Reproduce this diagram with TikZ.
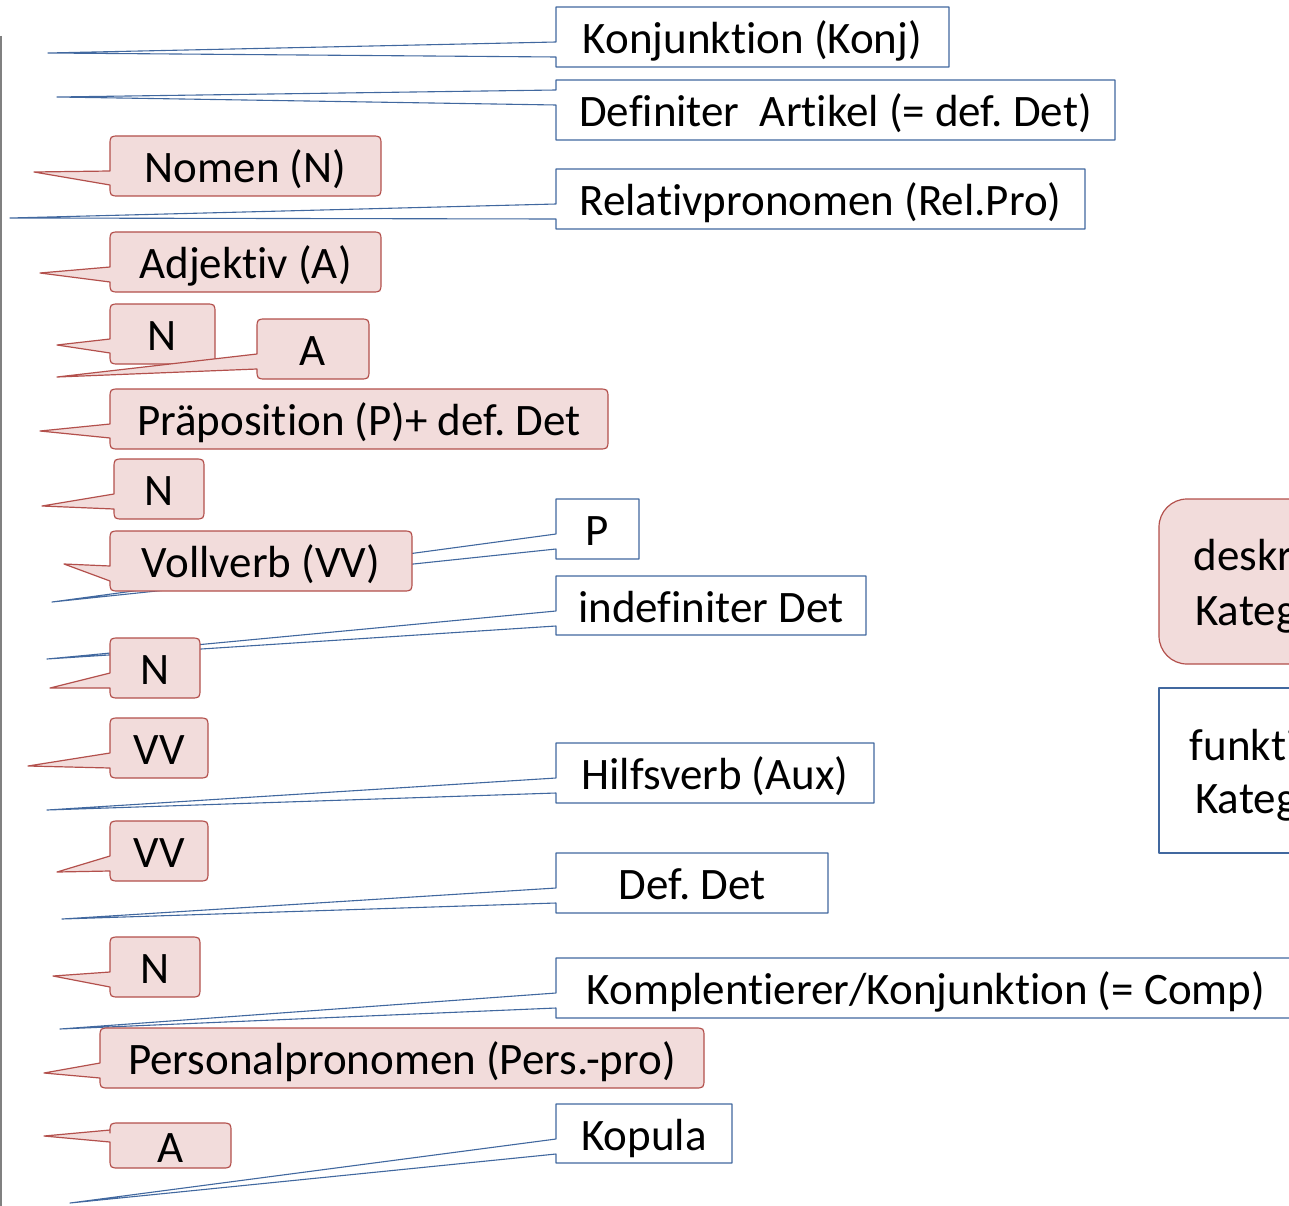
\documentclass[tikz,border=0pt]{standalone}
\usepackage{fontspec}
\setmainfont{Carlito}[Ligatures={NoCommon}]
\frenchspacing
\definecolor{pinkfill}{HTML}{F2DCDB}
\definecolor{redline}{HTML}{B3504C}
\definecolor{blueline}{HTML}{41689F}
\definecolor{pagegray}{HTML}{808080}
% red rounded callout: #1 name, #2 x1, #3 top, #4 x2, #5 bottom, #6 wedge top, #7 wedge bottom, #8 tip, #9 text
\newcommand\rcall[9]{%
  \draw[redbox] (#2,#6) -- (#8) -- (#2,#7) -- (#2,#5-10) .. controls (#2,#5) .. (#2+10,#5)
    -- (#4-10,#5) .. controls (#4,#5) .. (#4,#5-10) -- (#4,#3+10) .. controls (#4,#3) .. (#4-10,#3)
    -- (#2+10,#3) .. controls (#2,#3) .. (#2,#3+10) -- cycle;
  \node[lbl] (#1) at ({(#2+#4)/2},{(#3+#5)/2+16.5}) {#9};
}
% blue rectangular callout
\newcommand\bcall[9]{%
  \draw[bluebox] (#2,#6) -- (#8) -- (#2,#7) -- (#2,#5) -- (#4,#5) -- (#4,#3) -- (#2,#3) -- cycle;
  \node[lbl] (#1) at ({(#2+#4)/2},{(#3+#5)/2+16.5}) {#9};
}
\begin{document}
\begin{tikzpicture}[x=1pt,y=-1pt,
  redbox/.style={draw=redline,fill=pinkfill,line width=1.2pt,line join=round},
  bluebox/.style={draw=blueline,fill=white,line width=1.1pt,line join=round},
  lbl/.style={anchor=base,inner sep=0pt,font=\fontsize{45}{54}\selectfont,text=black}]
\useasboundingbox (0,0) rectangle (1289,1206);
\clip (0,0) rectangle (1289,1206);
% page edge
\coordinate (edgetop) at (1,36);
\coordinate (edgebot) at (1,1206);
\draw[pagegray,line width=1.5pt] (edgetop) -- (edgebot);
% blue (functional) callouts
\bcall{konj}{556}{7}{949}{67}{42}{57}{48,53}{Konjunktion (Konj)}
\bcall{defart}{556}{80}{1115}{140}{90}{105}{57,97}{Definiter\ \ Artikel (= def. Det)}
\bcall{relpro}{556}{169}{1085}{229}{204}{219}{10,218}{Relativpronomen (Rel.Pro)}
\bcall{prep}{556}{499}{639}{559}{534}{549}{52,602}{P}
\bcall{indef}{556}{576}{866}{635}{611}{626}{47,659}{indefiniter Det}
\bcall{aux}{556}{743}{874}{803}{778}{793}{47,810}{Hilfsverb (Aux)}
\bcall{defdet}{556}{853}{828}{913}{888}{903}{62,919}{Def. Det}
\bcall{comp}{556}{958}{1296}{1018}{993}{1008}{60,1029}{Komplentierer/Konjunktion (= Comp)}
\bcall{kop}{556}{1104}{732}{1163}{1139}{1154}{70,1203}{Kopula}
% red (descriptive) callouts
\rcall{nomen}{110}{136}{381}{196}{171}{185}{34,172}{Nomen (N)}
\rcall{adj}{110}{232}{381}{292}{267}{282}{40,273}{Adjektiv (A)}
\rcall{nA}{110}{304}{215}{364}{339}{353}{57,345}{N}
\rcall{aA}{257}{319}{369}{379}{354}{369}{57,377}{A}
\rcall{praep}{110}{389}{608}{449}{424}{438}{40,431}{Präposition (P)+ def. Det}
\rcall{nB}{114}{459}{204}{519}{494}{509}{42,506}{N}
\rcall{vollverb}{110}{531}{412}{591}{566}{581}{64,564}{Vollverb (VV)}
\rcall{nC}{110}{638}{200}{698}{673}{688}{50,688}{N}
\rcall{vvA}{110}{718}{208}{778}{753}{768}{28,766}{VV}
\rcall{vvB}{110}{821}{208}{881}{856}{871}{57,872}{VV}
\rcall{nD}{110}{937}{200}{997}{972}{987}{53,976}{N}
\rcall{perspro}{100}{1028}{704}{1088}{1063}{1078}{44,1073}{Personalpronomen (Pers.-pro)}
\rcall{aB}{110}{1123}{231}{1168}{1130}{1142}{44,1136}{A}
% legend boxes (cut off at the right edge, as in the reference)
\draw[redbox,rounded corners=28pt] (1159,499) rectangle (1440,664);
\node[lbl] (desk1) at (1294,570) {deskriptive};
\node[lbl] (desk2) at (1294,625) {Kategorien};
\draw[bluebox] (1159,688) rectangle (1440,853);
\node[lbl] (funk1) at (1294,760) {funktionale};
\node[lbl] (funk2) at (1294,813) {Kategorien};
\end{tikzpicture}
\end{document}
